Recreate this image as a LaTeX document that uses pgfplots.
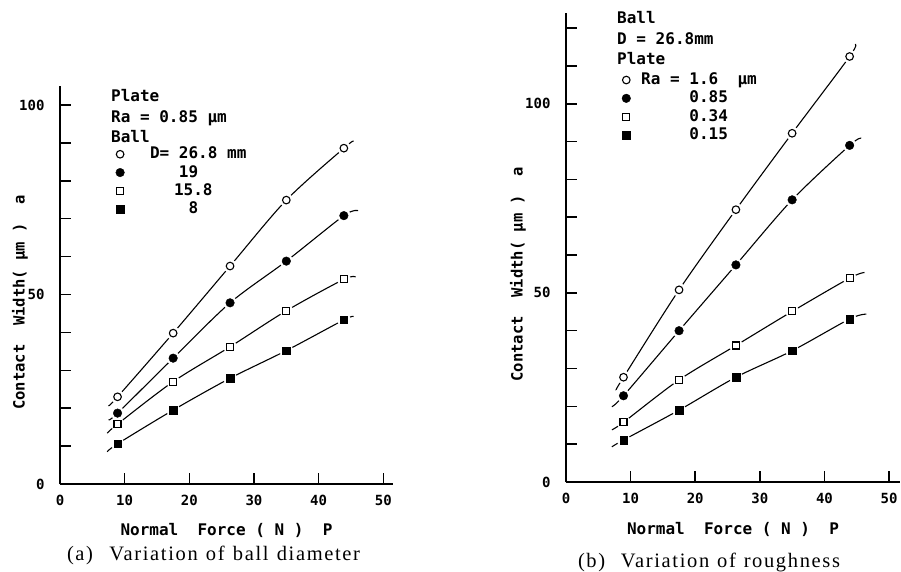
\documentclass[border=0pt]{standalone}
\usepackage{fontspec}
\setmainfont{DejaVu Sans Mono}
\newfontfamily\capfont[LetterSpace=8]{Liberation Serif}
\usepackage{pgfplots}
\pgfplotsset{compat=1.18}
\pgfplotsset{
  panel/.style={
    scale only axis, axis x line*=bottom, axis y line*=left,
    axis line style={line width=1.5pt},
    tick style={line width=1.5pt, black},
    tick align=inside, major tick length=11pt,
    xmin=0, xtick={0,10,...,50}, ymin=0,
    /pgf/number format/assume math mode=true,
    tick label style={font=\bfseries\fontsize{14}{14}\selectfont},
    xticklabel style={yshift=-8pt},
    yticklabel style={xshift=-12pt},
    xlabel style={font=\bfseries\fontsize{16}{16}\selectfont},
    ylabel style={font=\bfseries\fontsize{15.5}{15.5}\selectfont},
    legend style={draw=none, fill=none, anchor=north west, row sep=0pt, inner sep=0pt,
      nodes={inner sep=1.65pt, text height=12pt, text depth=3pt, font=\bfseries\fontsize{16}{16}\selectfont}},
    legend cell align=left,
    xlabel={Normal\ \ Force\ (\ N\ )\ \ P},
    ylabel={Contact\ \ Width(\ µm\ )\ \ a},
  },
  ln/.style={black, line width=1.1pt, smooth, no marks, forget plot},
  halo/.style={only marks, mark=*, mark size=6.5pt, mark options={draw=white, fill=white}, forget plot},
  oc/.style={only marks, mark=*, mark size=3.8pt, mark options={draw=black, fill=white, line width=1.1pt}},
  fc/.style={only marks, mark=*, mark size=4.3pt, mark options={draw=black, fill=black}},
  os/.style={only marks, mark=square*, mark size=3.5pt, mark options={draw=black, fill=white, line width=1.1pt}},
  fs/.style={only marks, mark=square*, mark size=3.8pt, mark options={draw=black, fill=black}},
}
\begin{document}
\begin{tikzpicture}
\path[use as bounding box] (0,0) rectangle (901pt,571pt);
% ---------- (a) ----------
\begin{axis}[panel, at={(60pt,87pt)}, anchor=south west,
  width=333pt, height=398pt, xmax=51.5, ymax=105,
  ytick={0,10,...,100}, yticklabels={0,,,,,50,,,,,100},
  xlabel style={at={(axis description cs:0.5,-0.116)}, anchor=center},
  ylabel style={at={(axis description cs:-0.12,0.456)}, anchor=center},
  legend style={at={(rel axis cs:0.167,0.852)}, /tikz/every odd column/.append style={column sep=17pt}},
]
\addplot[ln] coordinates {(7.5,20.6) (8.9,23.0) (17.5,39.8) (26.3,57.5) (35.0,74.9) (43.9,88.6) (45.4,90.5)};
\addplot[ln] coordinates {(7.5,16.9) (8.9,18.7) (17.5,33.2) (26.3,47.8) (35.0,58.8) (43.9,70.8) (46.1,72.1)};
\addplot[ln] coordinates {(7.3,13.4) (8.9,15.8) (17.5,27.0) (26.3,36.2) (35.0,45.7) (43.9,54.0) (45.7,54.6)};
\addplot[ln] coordinates {(7.3,8.5) (8.9,10.6) (17.5,19.5) (26.3,27.9) (35.0,35.2) (43.9,43.3) (45.4,44.2)};
\addplot[halo] coordinates {(8.9,23.0) (17.5,39.8) (26.3,57.5) (35.0,74.9) (43.9,88.6)};
\addplot[halo] coordinates {(8.9,18.7) (17.5,33.2) (26.3,47.8) (35.0,58.8) (43.9,70.8)};
\addplot[halo] coordinates {(8.9,15.8) (17.5,27.0) (26.3,36.2) (35.0,45.7) (43.9,54.0)};
\addplot[halo] coordinates {(8.9,10.6) (17.5,19.5) (26.3,27.9) (35.0,35.2) (43.9,43.3)};
\addplot[oc] coordinates {(8.9,23.0) (17.5,39.8) (26.3,57.5) (35.0,74.9) (43.9,88.6)};
\addlegendentry{\hspace*{7pt}D= 26.8 mm}
\addplot[fc] coordinates {(8.9,18.7) (17.5,33.2) (26.3,47.8) (35.0,58.8) (43.9,70.8)};
\addlegendentry{\hspace*{7pt}\phantom{D= }19}
\addplot[os] coordinates {(8.9,15.8) (17.5,27.0) (26.3,36.2) (35.0,45.7) (43.9,54.0)};
\addlegendentry{\hspace*{31pt}15.8}
\addplot[fs] coordinates {(8.9,10.6) (17.5,19.5) (26.3,27.9) (35.0,35.2) (43.9,43.3)};
\addlegendentry{\hspace*{7pt}\phantom{D= 2}8}
\end{axis}
% ---------- (b) ----------
\begin{axis}[panel, at={(566pt,89pt)}, anchor=south west,
  width=334pt, height=469pt, xmax=51.7, ymax=124,
  ytick={0,10,...,120}, yticklabels={0,,,,,50,,,,,100,,},
  xlabel style={at={(axis description cs:0.5,-0.102)}, anchor=center},
  ylabel style={at={(axis description cs:-0.144,0.443)}, anchor=center},
  legend style={at={(rel axis cs:0.167,0.877)}, /tikz/every odd column/.append style={column sep=9pt}},
]
\addplot[ln] coordinates {(7.8,24.5) (8.9,27.7) (17.5,50.8) (26.3,72.0) (35.0,92.2) (43.9,112.5) (44.8,115.8)};
\addplot[ln] coordinates {(7.1,19.9) (8.9,22.8) (17.5,40.0) (26.3,57.4) (35.0,74.6) (43.9,89.0) (45.7,90.9)};
\addplot[ln] coordinates {(7.1,13.8) (8.9,15.8) (17.5,27.0) (26.3,36.1) (35.0,45.1) (43.9,53.9) (46.2,55.4)};
\addplot[ln] coordinates {(7.1,9.3) (8.9,11.1) (17.5,19.0) (26.3,27.7) (35.0,34.7) (43.9,43.1) (46.5,44.4)};
\addplot[halo] coordinates {(8.9,27.7) (17.5,50.8) (26.3,72.0) (35.0,92.2) (43.9,112.5)};
\addplot[halo] coordinates {(8.9,22.8) (17.5,40.0) (26.3,57.4) (35.0,74.6) (43.9,89.0)};
\addplot[halo] coordinates {(8.9,15.8) (17.5,27.0) (26.3,36.1) (35.0,45.1) (43.9,53.9)};
\addplot[halo] coordinates {(8.9,11.1) (17.5,19.0) (26.3,27.7) (35.0,34.7) (43.9,43.1)};
\addplot[oc] coordinates {(8.9,27.7) (17.5,50.8) (26.3,72.0) (35.0,92.2) (43.9,112.5)};
\addlegendentry{Ra = 1.6\ \ µm}
\addplot[fc] coordinates {(8.9,22.8) (17.5,40.0) (26.3,57.4) (35.0,74.6) (43.9,89.0)};
\addlegendentry{\phantom{Ra = }0.85}
\addplot[os] coordinates {(8.9,15.8) (17.5,27.0) (26.3,36.1) (35.0,45.1) (43.9,53.9)};
\addlegendentry{\phantom{Ra = }0.34}
\addplot[fs] coordinates {(8.9,11.1) (17.5,19.0) (26.3,27.7) (35.0,34.7) (43.9,43.1)};
\addlegendentry{\phantom{Ra = }0.15}
\end{axis}
% headers
\node[anchor=base west, inner sep=0pt, align=left, font=\bfseries\fontsize{16}{20.5}\selectfont]
  at (111pt,428.2pt) {Plate\\Ra = 0.85 µm\\Ball};
\node[anchor=base west, inner sep=0pt, align=left, font=\bfseries\fontsize{16}{20.5}\selectfont]
  at (617pt,506.2pt) {Ball\\D = 26.8mm\\Plate};
% captions
\node[inner sep=0pt, font=\capfont\fontsize{20.5}{20.5}\selectfont] at (213.5pt,16pt) {\makebox[293pt][s]{(a)\ \ Variation of ball diameter}};
\node[inner sep=0pt, font=\capfont\fontsize{20.5}{20.5}\selectfont] at (709pt,9pt) {\makebox[262pt][s]{(b)\ \ Variation of roughness}};
\end{tikzpicture}
\end{document}
